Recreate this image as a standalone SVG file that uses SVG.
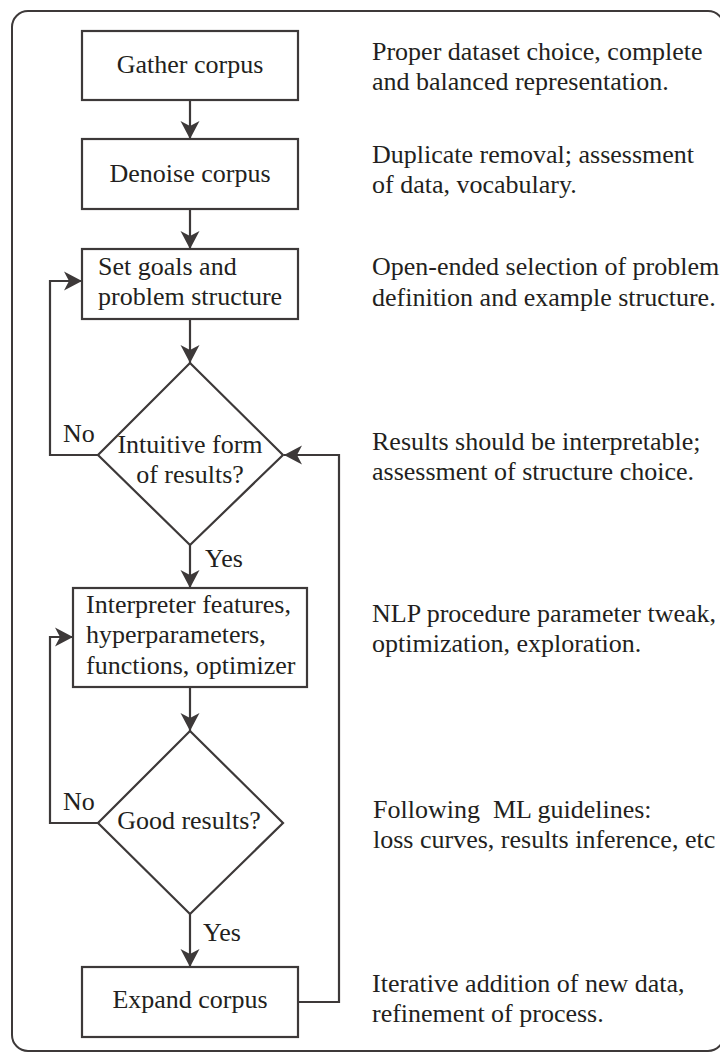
<svg xmlns="http://www.w3.org/2000/svg" width="720" height="1054" viewBox="0 0 720 1054">
<defs>
<style>
.frame{fill:none;stroke:#3d3939;stroke-width:2}
.box{fill:#fff;stroke:#3d3939;stroke-width:2.2}
.edge{fill:none;stroke:#3d3939;stroke-width:2.2}
.t{font-family:'Liberation Serif',Tinos,'Times New Roman',Times,'DejaVu Serif',serif;font-size:26px;fill:#231f20}
.c{text-anchor:middle}
.pre{white-space:pre}
</style>
<marker id="arr" markerUnits="userSpaceOnUse" markerWidth="20" markerHeight="20" viewBox="-20 -10 20 20" refX="0" refY="0" orient="auto">
<path d="M0,0 L-18,-9.5 L-13,0 L-18,9.5 Z" fill="#3d3939"/>
</marker>
</defs>
<rect class="frame" x="12" y="11" width="712" height="1040" rx="16" ry="16"/>
<g id="connectors">
<line class="edge" x1="190" y1="100" x2="190" y2="139" marker-end="url(#arr)"/>
<line class="edge" x1="190" y1="209" x2="190" y2="249" marker-end="url(#arr)"/>
<line class="edge" x1="190" y1="319" x2="190" y2="363" marker-end="url(#arr)"/>
<line class="edge" x1="190" y1="545" x2="190" y2="588" marker-end="url(#arr)"/>
<line class="edge" x1="190" y1="687" x2="190" y2="731" marker-end="url(#arr)"/>
<line class="edge" x1="190" y1="914" x2="190" y2="967" marker-end="url(#arr)"/>
<polyline class="edge" points="98,455 50,455 50,281 82,281" marker-end="url(#arr)"/>
<polyline class="edge" points="98,823 50,823 50,637 73,637" marker-end="url(#arr)"/>
<polyline class="edge" points="298,1002 339,1002 339,455 284,455" marker-end="url(#arr)"/>
<text class="t" x="63" y="442" font-family="Liberation Serif, serif">No</text>
<text class="t" x="205" y="567" font-family="Liberation Serif, serif">Yes</text>
<text class="t" x="63" y="810" font-family="Liberation Serif, serif">No</text>
<text class="t" x="203" y="941" font-family="Liberation Serif, serif">Yes</text>
</g>
<g id="gather">
<rect class="box" x="82" y="31" width="216" height="69"/>
<text class="t c" x="190" y="73">Gather corpus</text>
</g>
<g id="denoise">
<rect class="box" x="82" y="139" width="216" height="70"/>
<text class="t c" x="190" y="182">Denoise corpus</text>
</g>
<g id="setgoals">
<rect class="box" x="82" y="249" width="216" height="70"/>
<text class="t" x="98" y="275">Set goals and</text>
<text class="t" x="98" y="305">problem structure</text>
</g>
<g id="intuitive">
<polygon class="box" points="190,363 283,455 190,545 98,455"/>
<text class="t c" x="190" y="453">Intuitive form</text>
<text class="t c" x="190" y="483">of results?</text>
</g>
<g id="interpreter">
<rect class="box" x="73" y="588" width="234" height="99"/>
<text class="t" x="86" y="613">Interpreter features,</text>
<text class="t" x="86" y="643">hyperparameters,</text>
<text class="t" x="86" y="674">functions, optimizer</text>
</g>
<g id="good">
<polygon class="box" points="190,731 283,823 190,914 98,823"/>
<text class="t c" x="189" y="829">Good results?</text>
</g>
<g id="expand">
<rect class="box" x="82" y="967" width="216" height="70"/>
<text class="t c" x="190" y="1008">Expand corpus</text>
</g>
<g id="notes">
<text class="t" x="372" y="60">Proper dataset choice, complete</text>
<text class="t" x="372" y="90">and balanced representation.</text>
<text class="t" x="372" y="163">Duplicate removal; assessment</text>
<text class="t" x="372" y="193">of data, vocabulary.</text>
<text class="t" x="372" y="275">Open-ended selection of problem</text>
<text class="t" x="372" y="306">definition and example structure.</text>
<text class="t" x="372" y="450">Results should be interpretable;</text>
<text class="t" x="372" y="480">assessment of structure choice.</text>
<text class="t" x="372" y="622">NLP procedure parameter tweak,</text>
<text class="t" x="372" y="652">optimization, exploration.</text>
<text class="t pre" x="373" y="818">Following  ML guidelines:</text>
<text class="t" x="373" y="848">loss curves, results inference, etc</text>
<text class="t" x="372" y="992">Iterative addition of new data,</text>
<text class="t" x="372" y="1022">refinement of process.</text>
</g>
</svg>
